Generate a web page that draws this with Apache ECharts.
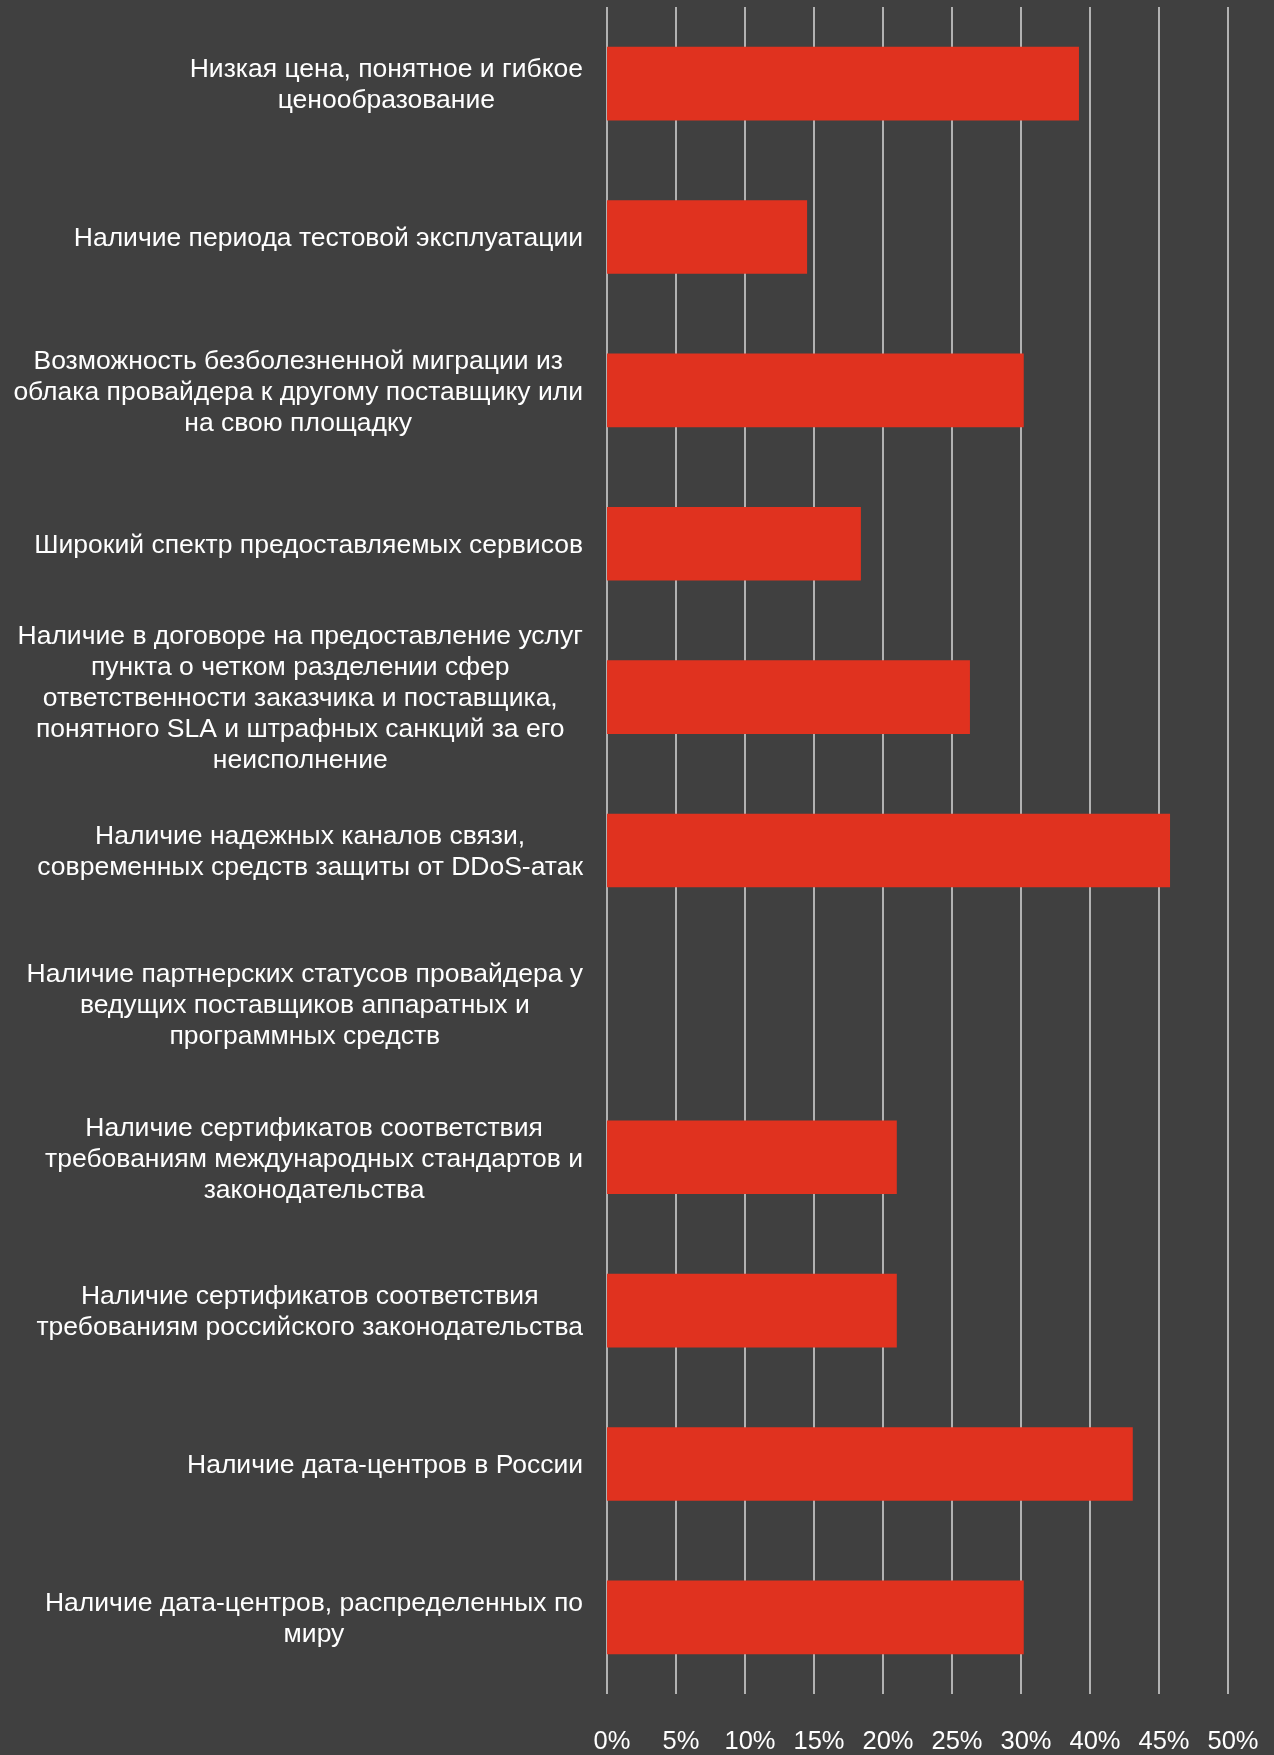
<!DOCTYPE html>
<html>
<head>
<meta charset="utf-8">
<script src="https://cdn.jsdelivr.net/npm/echarts@6/dist/echarts.min.js"></script>
<style>
  html, body { margin: 0; padding: 0; background: #404040; }
  #chart { width: 1274px; height: 1755px; }
</style>
</head>
<body>
<div id="chart"></div>
<script>
// Categories, top to bottom
const categories = [
  'Низкая цена, понятное и гибкое\nценообразование',
  'Наличие периода тестовой эксплуатации',
  'Возможность безболезненной миграции из\nоблака провайдера к другому поставщику или\nна свою площадку',
  'Широкий спектр предоставляемых сервисов',
  'Наличие в договоре на предоставление услуг\nпункта о четком разделении сфер\nответственности заказчика и поставщика,\nпонятного SLA и штрафных санкций за его\nнеисполнение',
  'Наличие надежных каналов связи,\nсовременных средств защиты от DDoS-атак',
  'Наличие партнерских статусов провайдера у\nведущих поставщиков аппаратных и\nпрограммных средств',
  'Наличие сертификатов соответствия\nтребованиям международных стандартов и\nзаконодательства',
  'Наличие сертификатов соответствия\nтребованиям российского законодательства',
  'Наличие дата-центров в России',
  'Наличие дата-центров, распределенных по\nмиру'
];

// Bar lengths in axis units (each gridline step = 5 units)
const values = [34.2, 14.5, 30.2, 18.4, 26.3, 40.8, 0, 21.0, 21.0, 38.1, 30.2];

// Tick labels as printed on the chart (note: 35% is absent in the original)
const tickLabels = ['0%', '5%', '10%', '15%', '20%', '25%', '30%', '40%', '45%', '50%'];

const chart = echarts.init(document.getElementById('chart'), null, { renderer: 'canvas' });

const FONT = 'Liberation Sans, Arial, sans-serif';

chart.setOption({
  backgroundColor: '#404040',
  animation: false,
  grid: { left: 607, right: 46, top: 7, bottom: 58, containLabel: false },
  xAxis: {
    type: 'value',
    min: 0,
    max: 45,
    interval: 5,
    axisLine: { show: false },
    axisTick: { show: false },
    splitLine: { show: true, lineStyle: { color: '#D9D9D9', width: 1.5 } },
    axisLabel: {
      color: '#FFFFFF',
      fontFamily: FONT,
      fontSize: 25.5,
      margin: 35,
      padding: [0, 0, 0, 10],
      formatter: function (v) {
        const i = Math.round(v / 5);
        return tickLabels[i] !== undefined ? tickLabels[i] : '';
      }
    }
  },
  yAxis: {
    type: 'category',
    inverse: true,
    data: categories,
    axisLine: { show: false },
    axisTick: { show: false },
    splitLine: { show: false },
    axisLabel: {
      color: '#FFFFFF',
      fontFamily: FONT,
      fontSize: 26.5,
      lineHeight: 31,
      margin: 24,
      align: 'right',
      padding: [4, 0, 0, 0],
      formatter: function (v) {
        return v.split('\n').map(function (l) { return '{c|' + l + '}'; }).join('\n');
      },
      rich: {
        c: {
          align: 'center',
          color: '#FFFFFF',
          fontFamily: FONT,
          fontSize: 26.5,
          lineHeight: 31
        }
      }
    }
  },
  series: [{
    type: 'bar',
    data: values,
    barWidth: '48%',
    itemStyle: { color: '#E0321F', borderWidth: 0 }
  }]
});
</script>
</body>
</html>
